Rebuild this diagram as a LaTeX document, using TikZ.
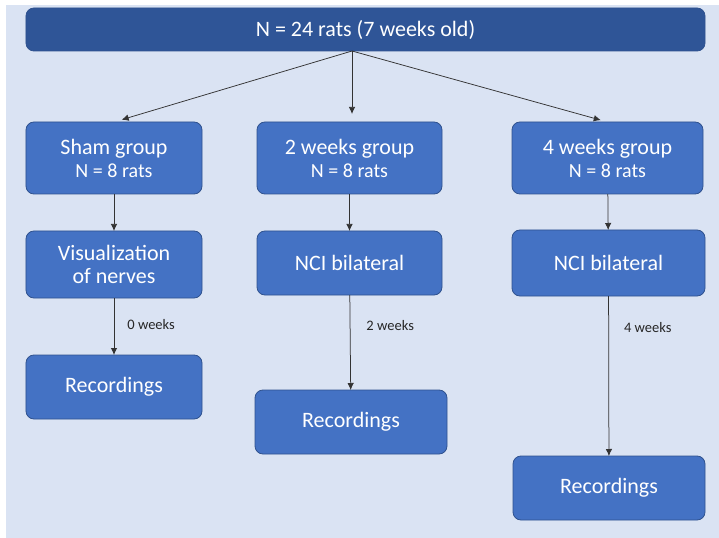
\documentclass[tikz,border=0pt]{standalone}
\usepackage{fontspec}
\setmainfont{Carlito}
\usetikzlibrary{arrows.meta}
\definecolor{bgcol}{HTML}{DAE3F3}
\definecolor{boxcol}{HTML}{4472C4}
\definecolor{headcol}{HTML}{2F5597}
\definecolor{edgecol}{HTML}{2F528F}
\tikzset{
  stepbox/.style={draw=edgecol,line width=0.8bp,fill=boxcol,rounded corners=8bp,
    text=white,align=center,inner sep=0pt,outer sep=0pt,
    font=\fontsize{22bp}{23bp}\selectfont},
  link/.style={draw=black!80,line width=0.75bp,-{Latex[length=7bp,width=6.5bp]}},
  lbl/.style={text=black!85,font=\fontsize{14.5bp}{16bp}\selectfont,inner sep=0pt},
}
\newcommand{\subline}[1]{{\fontsize{20bp}{23bp}\selectfont #1}}
\begin{document}
\begin{tikzpicture}[x=1bp,y=-1bp]
  \useasboundingbox (0,0) rectangle (719,538);
  \fill[bgcol] (6,5) rectangle (719,538);
%%
  % Node: top
  \node[stepbox,fill=headcol,minimum width=679bp,minimum height=43bp] (top) at (365.5,29.5) {N = 24 rats (7 weeks old)};
  \coordinate (fork) at (352,51);
  % Node: sham
  \node[stepbox,minimum width=176bp,minimum height=72bp] (sham) at (114,158) {Sham group\\\subline{N = 8 rats}};
  % Node: vis
  \node[stepbox,minimum width=176bp,minimum height=67bp] (vis) at (114,264.5) {Visualization\\of nerves};
  % Node: recsham
  \node[stepbox,minimum width=176bp,minimum height=64bp] (recsham) at (114,387) {Recordings};
  % Node: grptwo
  \node[stepbox,minimum width=185bp,minimum height=72bp] (grptwo) at (349.5,158) {2 weeks group\\\subline{N = 8 rats}};
  % Node: ncitwo
  \node[stepbox,minimum width=185bp,minimum height=64bp] (ncitwo) at (349.5,263) {NCI bilateral};
  % Node: rectwo
  \node[stepbox,minimum width=192bp,minimum height=64bp] (rectwo) at (351,422) {Recordings};
  % Node: grpfour
  \node[stepbox,minimum width=191bp,minimum height=72bp] (grpfour) at (607.5,158) {4 weeks group\\\subline{N = 8 rats}};
  % Node: ncifour
  \node[stepbox,minimum width=193bp,minimum height=66bp] (ncifour) at (608.5,263) {NCI bilateral};
  % Node: recfour
  \node[stepbox,minimum width=192bp,minimum height=64bp] (recfour) at (609,488) {Recordings};
%%
  % Edge: top -> groups
  \draw[link,shorten >=8bp] (fork) -- (sham.north);
  \draw[link,shorten >=8bp] (fork) -- (fork |- grptwo.north);
  \draw[link,shorten >=7bp] (fork) -- (grpfour.north);
  % Edge: sham column
  \draw[link] (sham) -- (vis);
  \draw[link] (vis) -- node[lbl,right=13bp,pos=0.47] {0 weeks} (recsham);
  % Edge: 2 weeks column
  \draw[link] (grptwo) -- (ncitwo);
  \draw[link] (ncitwo) -- node[lbl,right=16bp,pos=0.32] {2 weeks} (rectwo);
  % Edge: 4 weeks column
  \draw[link] (grpfour) -- (ncifour);
  \draw[link] (ncifour) -- node[lbl,right=15bp,pos=0.2] {4 weeks} (recfour);
%
\end{tikzpicture}
\end{document}
